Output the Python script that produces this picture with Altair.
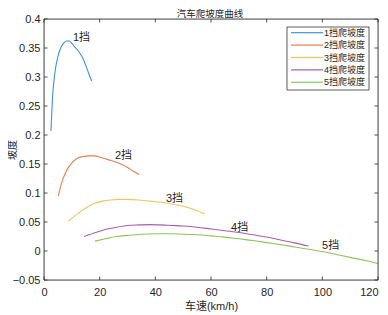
import altair as alt
import pandas as pd

# gear curves: speed (km/h) and climbing gradient
g1_x = [2.5, 3, 4, 5, 6, 7, 8, 9, 10, 11, 12, 13, 14, 15, 16, 17.1]
g1_y = [0.207, 0.26, 0.31, 0.335, 0.35, 0.358, 0.362, 0.362, 0.358, 0.352, 0.347, 0.34, 0.332, 0.32, 0.307, 0.293]
g2_x = [5.15, 6, 8, 10, 12, 14, 16, 18, 20, 22, 24, 26, 28, 30, 32, 34.2]
g2_y = [0.095, 0.112, 0.138, 0.152, 0.16, 0.163, 0.164, 0.164, 0.162, 0.159, 0.156, 0.153, 0.149, 0.144, 0.138, 0.132]
g3_x = [8.7, 12, 15, 18, 21, 24, 27, 30, 34, 38, 42, 46, 50, 54, 57.7]
g3_y = [0.051, 0.064, 0.074, 0.082, 0.086, 0.088, 0.089, 0.089, 0.088, 0.086, 0.084, 0.081, 0.077, 0.071, 0.064]
g4_x = [14.4, 18, 22, 26, 30, 34, 38, 42, 46, 50, 55, 60, 65, 70, 75, 80, 85, 90, 95]
g4_y = [0.025, 0.031, 0.037, 0.041, 0.044, 0.045, 0.0455, 0.045, 0.044, 0.043, 0.041, 0.038, 0.035, 0.032, 0.028, 0.024, 0.019, 0.014, 0.0085]
g5_x = [18.3, 22, 26, 30, 35, 40, 45, 50, 55, 60, 65, 70, 75, 80, 85, 90, 95, 100, 105, 110, 115, 120]
g5_y = [0.017, 0.021, 0.025, 0.027, 0.029, 0.0297, 0.0297, 0.029, 0.028, 0.026, 0.024, 0.021, 0.018, 0.0145, 0.011, 0.007, 0.003, -0.001, -0.006, -0.011, -0.016, -0.0215]

series_names = ["1挡爬坡度", "2挡爬坡度", "3挡爬坡度", "4挡爬坡度", "5挡爬坡度"]
series_colors = ["#3d93d8", "#ea7d50", "#f2c35c", "#a65db6", "#8cc45c"]

label_text = ["1挡", "2挡", "3挡", "4挡", "5挡"]
label_x = [10.4, 25.5, 43.8, 67.2, 99.9]
label_y = [0.367, 0.163, 0.0894, 0.039, 0.008]

chart_title = "汽车爬坡度曲线"
x_title = "车速(km/h)"
y_title = "坡度"

x_ticks = [0, 20, 40, 60, 80, 100, 120]
y_ticks = [-0.05, 0, 0.05, 0.1, 0.15, 0.2, 0.25, 0.3, 0.35, 0.4]

rows = []
for name, xs, ys in zip(series_names, [g1_x, g2_x, g3_x, g4_x, g5_x], [g1_y, g2_y, g3_y, g4_y, g5_y]):
    for i, (a, b) in enumerate(zip(xs, ys)):
        rows.append({"series": name, "speed": a, "grade": b, "order": i})
df = pd.DataFrame(rows)
labels = pd.DataFrame({"text": label_text, "speed": label_x, "grade": label_y})
xt = pd.DataFrame({"speed": x_ticks})
yt = pd.DataFrame({"grade": y_ticks})
ttl = pd.DataFrame({"t": [chart_title]})

W, H = 334, 261
FONT = "Liberation Sans, Noto Sans CJK SC"
AX = "#262626"

xscale = alt.Scale(domain=[0, 120], nice=False, zero=False)
yscale = alt.Scale(domain=[-0.05, 0.4], nice=False, zero=False)
cscale = alt.Scale(domain=series_names, range=series_colors)

x_axis = alt.Axis(values=x_ticks, grid=False, ticks=False, domain=False,
                  labelPadding=6, labelFontSize=11, labelFont=FONT, labelColor=AX,
                  labelOverlap=False, labelFlush=False,
                  labelAlign=alt.ExprRef(expr="datum.value >= 120 ? 'right' : 'center'"),
                  titleFontSize=11, titleFont=FONT, titleFontWeight="normal",
                  titleColor=AX, titlePadding=3)
y_axis = alt.Axis(values=y_ticks, grid=False, ticks=False, domain=False,
                  labelPadding=4, labelFontSize=11, labelFont=FONT, labelColor=AX,
                  labelOverlap=False, labelFlush=False, format="~g",
                  titleFontSize=10, titleFont=FONT, titleFontWeight="normal",
                  titleColor=AX, titleX=-27, titleY=H / 2, titleAngle=270,
                  titleBaseline="bottom", titleAlign="center")

X = alt.X("speed:Q", scale=xscale, title=x_title, axis=x_axis)
Y = alt.Y("grade:Q", scale=yscale, title=y_title, axis=y_axis)

lines = alt.Chart(df).mark_line(strokeWidth=1.1, interpolate="monotone").encode(
    x=X, y=Y,
    color=alt.Color("series:N", scale=cscale, legend=None),
    order="order:Q",
)

texts = alt.Chart(labels).mark_text(align="left", baseline="middle", fontSize=11,
                                     font=FONT, color=AX).encode(x=X, y=Y, text="text:N")

frame = alt.Chart(ttl).mark_rect(fill=None, stroke=AX, strokeWidth=0.8).encode(
    x=alt.value(0), x2=alt.value(W), y=alt.value(0), y2=alt.value(H))

tl = 3.5
xb = alt.Chart(xt).mark_rule(color=AX, strokeWidth=0.8).encode(
    x=X, y=alt.value(H), y2=alt.value(H - tl))
xtop = alt.Chart(xt).mark_rule(color=AX, strokeWidth=0.8).encode(
    x=X, y=alt.value(0), y2=alt.value(tl))
yl = alt.Chart(yt).mark_rule(color=AX, strokeWidth=0.8).encode(
    y=Y, x=alt.value(0), x2=alt.value(tl))
yr = alt.Chart(yt).mark_rule(color=AX, strokeWidth=0.8).encode(
    y=Y, x=alt.value(W), x2=alt.value(W - tl))

# manual legend (inside top-right corner)
layers = [lines, texts, xb, xtop, yl, yr, frame]
layers.append(alt.Chart(ttl).mark_rect(fill="white", stroke="#333333", strokeWidth=0.8).encode(
    x=alt.value(243), x2=alt.value(325), y=alt.value(8), y2=alt.value(71)))
for i, (name, col) in enumerate(zip(series_names, series_colors)):
    ly = 13.7 + i * 12.4
    one = pd.DataFrame({"series": [name]})
    layers.append(alt.Chart(one).mark_rule(strokeWidth=1.2, color=col).encode(
        x=alt.value(247), x2=alt.value(279), y=alt.value(ly)))
    layers.append(alt.Chart(one).mark_text(align="left", baseline="middle", fontSize=9,
                                           font=FONT, color=AX).encode(
        x=alt.value(280), y=alt.value(ly), text="series:N"))

layers.append(alt.Chart(ttl).mark_text(align="center", baseline="alphabetic", fontSize=9.5,
                                       font="Noto Sans CJK SC", color=AX).encode(
    x=alt.value(W / 2 - 1), y=alt.value(-2), text="t:N"))

chart = alt.layer(*layers).properties(
    width=W, height=H,
    autosize=alt.AutoSizeParams(type="none"),
    padding={"left": 36, "top": 11, "right": 2, "bottom": 33},
).configure_view(stroke=None).configure_axis(labelOverlap=False).configure(background="white")

chart.save("out.html", embed_options={"renderer": "svg", "actions": False})
